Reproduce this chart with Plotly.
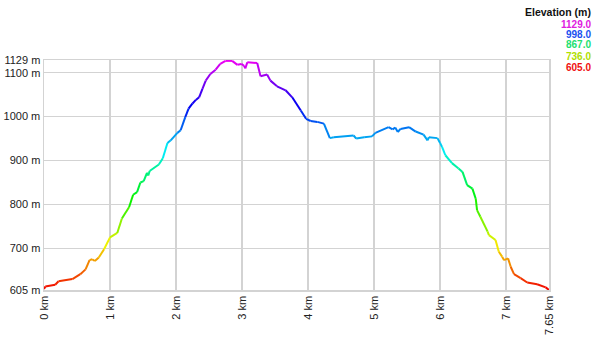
import colorsys
import plotly.graph_objects as go

# distance (km) and elevation (m)
dist_km = [0.00, 0.02, 0.17, 0.22, 0.43, 0.55, 0.63, 0.69, 0.73, 0.77, 0.83, 0.91,
           1.00, 1.11, 1.18, 1.29, 1.35, 1.41, 1.46, 1.51, 1.56, 1.58, 1.60, 1.74,
           1.80, 1.87, 1.92, 2.02, 2.07, 2.14, 2.19, 2.25, 2.30, 2.35, 2.40, 2.45,
           2.52, 2.60, 2.67, 2.75, 2.85, 2.93, 2.99, 3.03, 3.05, 3.08, 3.23, 3.28,
           3.38, 3.43, 3.53, 3.66, 3.76, 3.89, 3.97, 4.04, 4.14, 4.24, 4.33, 4.39,
           4.69, 4.73, 4.85, 4.97, 5.02, 5.22, 5.28, 5.32, 5.36, 5.40, 5.53, 5.63,
           5.75, 5.81, 5.83, 5.96, 6.00, 6.03, 6.08, 6.18, 6.28, 6.34, 6.41, 6.49,
           6.54, 6.56, 6.61, 6.72, 6.74, 6.84, 6.89, 6.94, 6.97, 7.03, 7.07, 7.12,
           7.22, 7.32, 7.47, 7.60, 7.65]
elev_m = [607, 613, 617, 625, 630, 641, 652, 673, 675, 671, 679, 698,
          725, 735, 768, 794, 822, 828, 850, 853, 872, 866, 876, 891,
          905, 940, 946, 963, 969, 999, 1018, 1030, 1038, 1044, 1063, 1082,
          1097, 1107, 1120, 1127, 1127, 1118, 1120, 1116, 1110, 1124, 1122, 1092,
          1096, 1082, 1069, 1060, 1044, 1014, 995, 990, 988, 984, 951, 953,
          957, 950, 953, 955, 963, 976, 971, 975, 965, 972, 976, 966,
          959, 946, 953, 951, 940, 931, 912, 894, 882, 874, 844, 836,
          813, 787, 772, 738, 730, 719, 692, 681, 673, 677, 658, 641,
          632, 622, 618, 611, 605]

x_tick_vals = [0, 1, 2, 3, 4, 5, 6, 7, 7.65]
x_tick_text = ["0 km", "1 km", "2 km", "3 km", "4 km", "5 km", "6 km", "7 km", "7.65 km"]
y_tick_vals = [605, 700, 800, 900, 1000, 1100, 1129]
y_tick_text = ["605 m", "700 m", "800 m", "900 m", "1000 m", "1100 m", "1129 m"]
legend_vals = [1129.0, 998.0, 867.0, 736.0, 605.0]
legend_colors = ["#e020e0", "#2050f0", "#20e070", "#b0e000", "#f01010"]

EMIN, EMAX = 605, 1129


def elev_color(e):
    t = (e - EMIN) / (EMAX - EMIN)
    t = max(0.0, min(1.0, t))
    r, g, b = colorsys.hsv_to_rgb(t * 300 / 360, 1.0, 0.95)
    return "rgb(%d,%d,%d)" % (r * 255, g * 255, b * 255)


fig = go.Figure()
for i in range(len(dist_km) - 1):
    em = (elev_m[i] + elev_m[i + 1]) / 2
    fig.add_trace(go.Scatter(
        x=[dist_km[i], dist_km[i + 1]], y=[elev_m[i], elev_m[i + 1]],
        mode="lines", line=dict(color=elev_color(em), width=2),
        hoverinfo="skip", showlegend=False))

grid = "#d3d3d3"
fig.update_xaxes(range=[0, 7.65], tickvals=x_tick_vals, ticktext=x_tick_text,
                 tickangle=-90, showgrid=True, gridcolor=grid, gridwidth=1.5,
                 showline=True, linecolor=grid, linewidth=1.5, mirror=True,
                 zeroline=False, ticks="", automargin=False,
                 tickfont=dict(size=11, color="#222"))
fig.update_yaxes(range=[605, 1129], tickvals=y_tick_vals, ticktext=y_tick_text,
                 showgrid=True, gridcolor=grid, gridwidth=1.5,
                 showline=True, linecolor=grid, linewidth=1.5, mirror=True,
                 zeroline=False, ticks="", automargin=False,
                 tickfont=dict(size=11, color="#222"))

annotations = [dict(text="<b>Elevation (m)</b>", xref="paper", yref="paper",
                    x=1.087, y=(290 - 12) / 230, xanchor="right", yanchor="middle",
                    showarrow=False, font=dict(size=10.5, color="#111"))]
legend_y = [24, 35, 45, 56, 67]
for v, c, yy in zip(legend_vals, legend_colors, legend_y):
    annotations.append(dict(text="<b>%.1f</b>" % v, xref="paper", yref="paper",
                            x=1.087, y=(290 - yy) / 230, xanchor="right",
                            yanchor="middle", showarrow=False,
                            font=dict(size=10, color=c)))

fig.update_layout(width=600, height=345,
                  margin=dict(l=43.5, r=51, t=60, b=55, autoexpand=False),
                  paper_bgcolor="white", plot_bgcolor="white",
                  font=dict(family="Liberation Sans, Arial, sans-serif"),
                  annotations=annotations, hovermode=False)

fig.write_html("out.html",
               config={"displayModeBar": False, "staticPlot": True},
               post_script="document.body.style.margin='0';"
                           "document.body.style.overflow='hidden';")
